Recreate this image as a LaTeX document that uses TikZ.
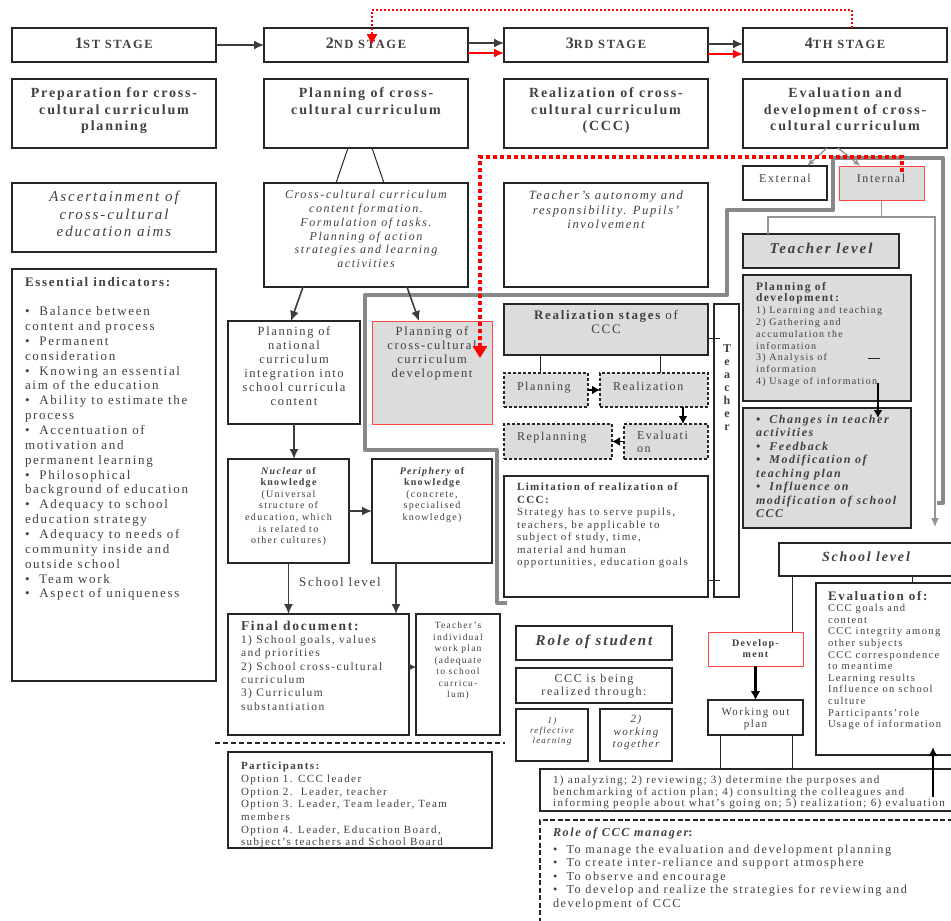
\documentclass[tikz,border=0pt]{standalone}
\usepackage{fontspec}
\setmainfont{Liberation Serif}[LetterSpace=13]
\usetikzlibrary{arrows.meta}
\definecolor{tc}{HTML}{404040}
\definecolor{bd}{HTML}{262626}
\definecolor{gf}{HTML}{DCDCDC}
\definecolor{rd}{HTML}{FF0000}
\definecolor{rb}{HTML}{FF4545}
\definecolor{gl}{HTML}{888888}
\newcommand\fsz[2]{\fontsize{#1}{#2}\selectfont}
\newcommand\bx[6][bxs]{\node[#1, minimum width={(#4)-(#2)}, minimum height={(#5)-(#3)}] (#6) at ({((#2)+(#4))/2},{((#3)+(#5))/2}) {};}
\tikzset{
 bxs/.style={draw=bd, line width=1.3pt, inner sep=0pt, outer sep=0pt, fill=white},
 gbx/.style={bxs, fill=gf},
 rbx/.style={bxs, draw=rb, line width=1pt, fill=gf},
 rwbx/.style={bxs, draw=rb, line width=1pt},
 dbx/.style={bxs, fill=gf, dash pattern=on 3pt off 2pt, line width=1.8pt},
 t/.style={inner sep=0pt, outer sep=0pt, text=tc},
 ar/.style={draw=bd!90, line width=1.6pt, -{Latex[length=10pt,width=9pt]}},
 arb/.style={draw=black, line width=1.6pt, -{Latex[length=8pt,width=9pt]}},
 arr/.style={draw=rd, line width=1.6pt, -{Latex[length=10pt,width=9pt]}},
 ln/.style={draw=bd, line width=1pt},
 gln/.style={draw=gl!90, line width=1.3pt},
 reddot/.style={draw=rd, line width=2.5pt, dash pattern=on 2pt off 2pt, -{Triangle[length=10pt,width=10pt]}},
 reddot2/.style={draw=rd, line width=4pt, dash pattern=on 4pt off 3pt, -{Triangle[length=12pt,width=14pt]}},
}
\begin{document}
\begin{tikzpicture}[x=1pt,y=-1pt]
\useasboundingbox[fill=white] (0,0) rectangle (951,921);
% ---------- boxes
\bx{12}{28}{216}{62}{s1}
\bx{264}{28}{468}{62}{s2}
\bx{504}{28}{708}{62}{s3}
\bx{743}{28}{947}{62}{s4}
\bx{12}{79}{216}{148}{r1}
\bx{264}{79}{468}{148}{r2}
\bx{504}{79}{708}{148}{r3}
\bx{743}{79}{947}{148}{r4}
\bx{12}{183}{216}{252}{a1}
\bx{264}{183}{468}{287}{cc}
\bx{504}{183}{708}{287}{ta}
\bx{743}{166}{827}{200}{ext}
\bx[rbx]{839}{166}{924}{200}{int}
\bx{12}{269}{216}{681}{ei}
\bx{228}{321}{360}{424}{pn}
\bx[rbx]{372}{321}{492}{424}{pcd}
\bx{228}{459}{349}{563}{nu}
\bx{372}{459}{492}{563}{pe}
\bx{228}{614}{409}{735}{fd}
\bx{416}{614}{500}{735}{tw}
\bx{228}{752}{492}{848}{pa}
\bx[gbx]{504}{304}{708}{355}{rs}
\bx{714}{304}{739}{597}{tb}
\bx[dbx]{504}{373}{588}{407}{pl}
\bx[dbx]{600}{373}{708}{407}{re}
\bx[dbx]{504}{424}{612}{459}{rp}
\bx[dbx]{624}{424}{708}{459}{ev}
\bx{504}{476}{708}{597}{lim}
\bx{516}{626}{672}{660}{rst}
\bx{516}{668}{672}{703}{cbr}
\bx{516}{709}{588}{761}{rl}
\bx{600}{709}{672}{761}{wt}
\bx[gbx]{743}{234}{899}{268}{tl}
\bx[gbx]{743}{275}{911}{401}{pd}
\bx[gbx]{743}{408}{911}{528}{ch}
\bx{779}{543}{962}{576}{sl}
\bx{816}{583}{962}{755}{evo}
\bx[rwbx]{708}{632}{803}{666}{dev}
\bx{708}{700}{803}{735}{wo}
\bx{540}{769}{962}{811}{st}
% ---------- texts
\node[t,anchor=base,font=\bfseries] (ts1) at (114,48) {{\fsz{16}{16}1}{\fsz{12.5}{14}ST STAGE}};
\node[t,anchor=base,font=\bfseries] (ts2) at (366,48) {{\fsz{16}{16}2}{\fsz{12.5}{14}ND STAGE}};
\node[t,anchor=base,font=\bfseries] (ts3) at (606,48) {{\fsz{16}{16}3}{\fsz{12.5}{14}RD STAGE}};
\node[t,anchor=base,font=\bfseries] (ts4) at (845,48) {{\fsz{16}{16}4}{\fsz{12.5}{14}TH STAGE}};
\node[t,anchor=north,align=center,font=\bfseries\fsz{14}{16.5}] (tr1) at (114,88) {Preparation for cross-\\cultural curriculum\\planning};
\node[t,anchor=north,align=center,font=\bfseries\fsz{14}{16.5}] (tr2) at (366,88) {Planning of cross-\\cultural curriculum};
\node[t,anchor=north,align=center,font=\bfseries\fsz{14}{16.5}] (tr3) at (606,88) {Realization of cross-\\cultural curriculum\\(CCC)};
\node[t,anchor=north,align=center,font=\bfseries\fsz{14}{16.5}] (tr4) at (845,88) {Evaluation and\\development of cross-\\cultural curriculum};
\node[t,anchor=north,align=center,font=\itshape\fsz{15}{17.5}] (ta1) at (114,191) {Ascertainment of\\cross-cultural\\education aims};
\node[t,anchor=north,align=center,font=\itshape\fsz{12}{13.9}] (tcc) at (366,190) {Cross-cultural curriculum\\content formation.\\Formulation of tasks.\\Planning of action\\strategies and learning\\activities};
\node[t,anchor=north,align=center,font=\itshape\fsz{12.6}{14.5}] (tta) at (606,191) {Teacher's autonomy and\\responsibility. Pupils'\\involvement};
\node[t,anchor=base,font=\fsz{12}{14}] (text) at (785,182) {External};
\node[t,anchor=base,font=\fsz{12}{14}] (tint) at (881,182) {Internal};
\node[t,anchor=north west,align=left,font=\fsz{13}{14.85}] (tei) at (25,277) {{\bfseries Essential indicators:}\\[14.85pt]
\textbullet\ \ Balance between\\content and process\\\textbullet\ \ Permanent\\consideration\\\textbullet\ \ Knowing an essential\\aim of the education\\\textbullet\ \ Ability to estimate the\\process\\\textbullet\ \ Accentuation of\\motivation and\\permanent learning\\\textbullet\ \ Philosophical\\background of education\\\textbullet\ \ Adequacy to school\\education strategy\\\textbullet\ \ Adequacy to needs of\\community inside and\\outside school\\\textbullet\ \ Team work\\\textbullet\ \ Aspect of uniqueness};
\node[t,anchor=north,align=center,font=\fsz{12.5}{14}] (tpn) at (294,327) {Planning of\\national\\curriculum\\integration into\\school curricula\\content};
\node[t,anchor=north,align=center,font=\fsz{12.5}{14}] (tpcd) at (432,327) {Planning of\\cross-cultural\\curriculum\\development};
\node[t,anchor=north,align=center,font=\fsz{10}{11.6}] (tnu) at (288.5,467) {{\bfseries\itshape Nuclear} {\bfseries of}\\{\bfseries knowledge}\\(Universal\\structure of\\education, which\\is related to\\other cultures)};
\node[t,anchor=north,align=center,font=\fsz{10}{11.6}] (tpe) at (432,467) {{\bfseries\itshape Periphery} {\bfseries of}\\{\bfseries knowledge}\\(concrete,\\specialised\\knowledge)};
\node[t,anchor=base,font=\fsz{13}{14}] (tsl1) at (340,586) {School level};
\node[t,anchor=north west,align=left,font=\fsz{11.5}{13.3}] (tfd) at (241,621) {{\bfseries\fsz{13.5}{13.3}Final document:}\\1) School goals, values\\and priorities\\2) School cross-cultural\\curriculum\\3) Curriculum\\substantiation};
\node[t,anchor=north,align=center,font=\fsz{9.5}{11.5}] (ttw) at (458,622) {Teacher's\\individual\\work plan\\(adequate\\to school\\curricu-\\lum)};
\node[t,anchor=north west,align=left,font=\fsz{11}{12.7}] (tpa) at (241,762) {{\bfseries Participants:}\\Option 1. CCC leader\\Option 2.\ \ Leader, teacher\\Option 3. Leader, Team leader, Team\\members\\Option 4. Leader, Education Board,\\subject's teachers and School Board};
\node[t,anchor=north,align=center,font=\fsz{13}{14.7}] (trs) at (606,310) {{\bfseries Realization stages} of\\CCC};
\node[t,anchor=base west,font=\fsz{12}{13}] (tpl) at (517,390) {Planning};
\node[t,anchor=base west,font=\fsz{12}{13}] (tre) at (613,390) {Realization};
\node[t,anchor=base west,font=\fsz{12}{13}] (trp) at (517,440) {Replanning};
\node[t,anchor=north west,align=left,font=\fsz{12}{13}] (tev) at (637,431) {Evaluati\\on};
\node[t,anchor=north,align=center,font=\bfseries\fsz{12}{13}] (ttb) at (727,345) {T\\e\\a\\c\\h\\e\\r};
\node[t,anchor=north west,align=left,font=\fsz{11}{12.5}] (tlim) at (517,483) {{\bfseries Limitation of realization of}\\{\bfseries CCC:}\\Strategy has to serve pupils,\\teachers, be applicable to\\subject of study, time,\\material and human\\opportunities, education goals};
\node[t,anchor=base,font=\bfseries\itshape\fsz{15}{16}] (trst) at (594,645) {Role of student};
\node[t,anchor=north,align=center,font=\fsz{12}{13}] (tcbr) at (594,674) {CCC is being\\realized through:};
\node[t,anchor=north,align=center,font=\itshape\fsz{9}{10}] (trl) at (552,717) {1)\\reflective\\learning};
\node[t,anchor=north,align=center,font=\itshape\fsz{11}{12.5}] (twt) at (636,715) {2)\\working\\together};
\node[t,anchor=base,font=\bfseries\itshape\fsz{15}{16}] (ttl) at (821,253) {Teacher level};
\node[t,anchor=north west,align=left,font=\fsz{10}{11.8}] (tpd) at (756,282) {{\bfseries\fsz{11.5}{11.8}Planning of}\\{\bfseries\fsz{11.5}{11.8}development:}\\1) Learning and teaching\\2) Gathering and\\accumulation the\\information\\3) Analysis of\\information\\4) Usage of information};
\node[t,anchor=north west,align=left,font=\bfseries\itshape\fsz{12}{13.5}] (tch) at (756,415) {\textbullet\ \ Changes in teacher\\activities\\\textbullet\ \ Feedback\\\textbullet\ \ Modification of\\teaching plan\\\textbullet\ \ Influence on\\modification of school\\CCC};
\node[t,anchor=base,font=\bfseries\itshape\fsz{14}{15}] (tsl2) at (866,561) {School level};
\node[t,anchor=north west,align=left,font=\fsz{10.5}{11.6}] (tevo) at (828,591) {{\bfseries\fsz{13}{11.6}Evaluation of:}\\CCC goals and\\content\\CCC integrity among\\other subjects\\CCC correspondence\\to meantime\\Learning results\\Influence on school\\culture\\Participants'role\\Usage of information};
\node[t,anchor=north,align=center,font=\bfseries\fsz{10}{11}] (tdev) at (755.5,640) {Develop-\\ment};
\node[t,anchor=north,align=center,font=\fsz{11}{11.5}] (two) at (755.5,708) {Working out\\plan};
\node[t,anchor=north west,align=left,font=\fsz{11.1}{11.6}] (tst) at (553,776) {1) analyzing; 2) reviewing; 3) determine the purposes and\\benchmarking of action plan; 4) consulting the colleagues and\\informing people about what's going on; 5) realization; 6) evaluation};
\node[t,anchor=north west,align=left,font=\fsz{12.2}{13.5}] (tmg) at (553,828) {{\bfseries\itshape Role of CCC manager}{\bfseries :}\\[3pt]\textbullet\ \ To manage the evaluation and development planning\\\textbullet\ \ To create inter-reliance and support atmosphere\\\textbullet\ \ To observe and encourage\\\textbullet\ \ To develop and realize the strategies for reviewing and\\development of CCC};
% ---------- connectors
\draw[ar] (s1.east) -- (s2.west);
\draw[ar] ([yshift=2pt]s2.east) -- ([yshift=2pt]s3.west);
\draw[arr] ([yshift=-8pt]s2.east) -- ([yshift=-8pt]s3.west);
\draw[ar] ([yshift=1pt]s3.east) -- ([yshift=1pt]s4.west);
\draw[arr] ([yshift=-9pt]s3.east) -- ([yshift=-9pt]s4.west);
\coordinate (rdend) at (372,44);
\draw[reddot] ([xshift=7pt]s4.north) |- (372,10) -- (rdend);
\draw[ln] ([xshift=-18pt]r2.south) -- ([xshift=-30pt]cc.north);
\draw[ln] ([xshift=6pt]r2.south) -- ([xshift=18pt]cc.north);
\draw[gln,-{Latex[length=7pt,width=6pt]}] ([xshift=-18pt]r4.south) -- ([xshift=22pt]ext.north);
\draw[gln,-{Latex[length=7pt,width=6pt]}] ([xshift=-7pt]r4.south) -- ([xshift=-21pt]int.north);
\draw[gln] (int.south) -- ++(0,17);
\coordinate (slarrow) at (935,527);
\draw[gln,-{Latex[length=9pt,width=8pt]}] ([xshift=-53pt]tl.north) |- (935,217) -- (slarrow);
\draw[gl, line width=4.5pt, line join=round] (937,503) -- (943,503) -- (943,158) -- (833,158) -- (833,210) -- (727,210) -- (727,295) -- (365,295) -- (365,450) -- (497,450) -- (497,603) -- (507,603);
\coordinate (rd2s) at (902,172);
\coordinate (rd2e) at (480,358);
\draw[reddot2] (rd2s) |- (480,157) -- (rd2e);
\draw[ar] ([xshift=-63pt]cc.south) -- ([xshift=-3pt]pn.north);
\draw[ar] ([xshift=41pt]cc.south) -- ([xshift=-13pt]pcd.north);
\draw[ar] (pn.south) -- (pn.south |- nu.north);
\draw[ar] (nu.east) -- (pe.west);
\draw[ar] (nu.south) -- (nu.south |- fd.north);
\draw[ar] ([xshift=-36pt]pe.south) -- ([xshift=-36pt]pe.south |- fd.north);
\draw[draw=bd!90, line width=1pt, -{Latex[length=7pt,width=7pt]}] ([yshift=7.5pt]fd.east) -- ([yshift=7.5pt]tw.west);
\coordinate (dl1) at (215,743);
\coordinate (dl2) at (505,743);
\draw[draw=bd, line width=1.5pt, dash pattern=on 5pt off 3pt] (dl1) -- (dl2);
\draw[ln] ([xshift=-66pt]rs.south) -- ([xshift=-66pt]rs.south |- pl.north);
\draw[ln] ([xshift=54pt]rs.south) -- ([xshift=54pt]rs.south |- re.north);
\draw[arb] (pl.east) -- (re.west);
\draw[arb] ([xshift=29pt]re.south) -- ([xshift=29pt]re.south |- ev.north);
\draw[arb] (ev.west) -- (rp.east);
\draw[ln] ([yshift=-8.5pt]rs.east) -- ++(12,0);
\draw[ln] ([yshift=-43.5pt]lim.east) -- ++(12,0);
\draw[arb] ([xshift=51pt,yshift=18pt]pd.south) -- ([xshift=51pt,yshift=-10pt]ch.north);
\draw[ln] (868,358) -- (880,358);
\draw[ln] ([xshift=-78.5pt]sl.south) -- ([xshift=-78.5pt]sl.south |- dev.north);
\draw[ln] ([xshift=41.5pt]sl.south) -- ([xshift=41.5pt]sl.south |- evo.north);
\draw[draw=black, line width=2.5pt, -{Latex[length=9pt,width=10pt]}] (dev.south) -- (wo.north);
\draw[ln] ([xshift=-35.5pt]wo.south) -- ([xshift=-35.5pt]wo.south |- st.north);
\draw[ln] ([xshift=36.5pt]wo.south) -- ([xshift=36.5pt]wo.south |- st.north);
\draw[draw=black, line width=1.8pt, -{Latex[length=9pt,width=9pt]}] ([xshift=-29pt,yshift=-28pt]st.north east) -- ([xshift=-29pt,yshift=8pt]evo.south east);
\coordinate (mg1) at (960,820);
\coordinate (mg2) at (540,925);
\draw[draw=bd, line width=1.6pt, dash pattern=on 5pt off 2.5pt] (mg1) -| (mg2);
\end{tikzpicture}
\end{document}
